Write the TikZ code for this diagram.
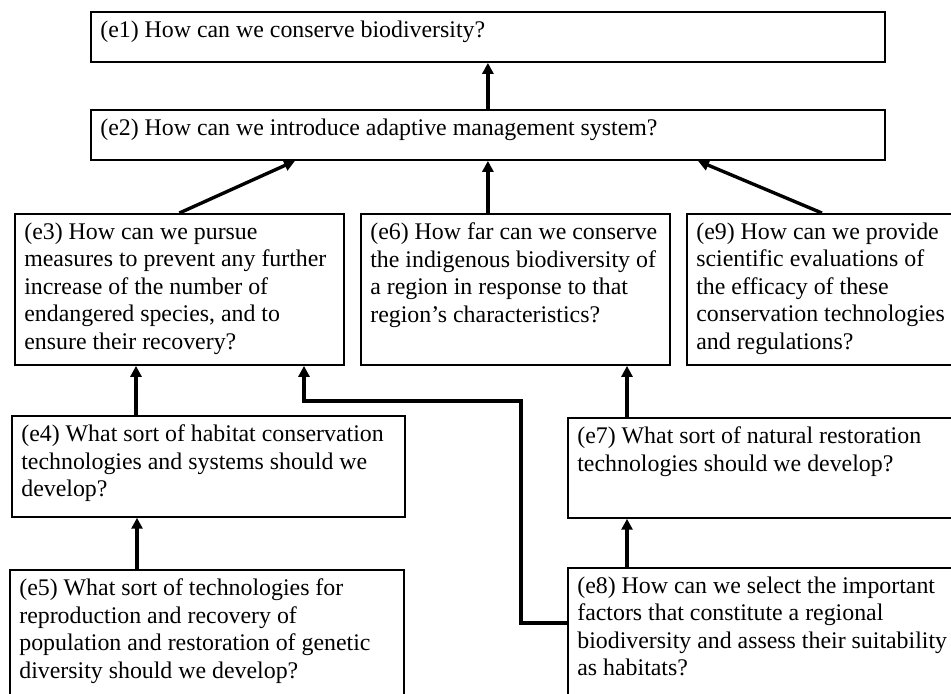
\documentclass[tikz,border=0pt]{standalone}
\usepackage{fontspec}
\setmainfont{Liberation Serif}
\usetikzlibrary{arrows.meta,calc}
\begin{document}
\begin{tikzpicture}[x=0.503pt, y=-0.503pt,
	box/.style={draw, line width=0.9pt, anchor=north west, inner sep=0pt},
	qtext/.style={anchor=north west, align=left, inner xsep=5pt, inner ysep=4.8pt, font=\fontsize{12pt}{13.8pt}\selectfont},
	arr/.style={line width=1.7pt, -{Triangle[width=5.5pt, length=5.5pt]}}]
			\clip (0,0) rectangle (951,693);
			\node[box, minimum width=399.4pt, minimum height=25.2pt] (e1) at (90,11) {};
			\node[qtext] (t1) at (e1.north west) {(e1) How can we conserve biodiversity?};
			\node[box, minimum width=399.4pt, minimum height=25.2pt] (e2) at (90,109) {};
			\node[qtext] (t2) at (e2.north west) {(e2) How can we introduce adaptive management system?};
			\node[box, minimum width=165.5pt, minimum height=76pt] (e3) at (14,213) {};
			\node[qtext] (t3) at (e3.north west) {(e3) How can we pursue\\measures to prevent any further\\increase of the number of\\endangered species, and to\\ensure their recovery?};
			\node[box, minimum width=155.4pt, minimum height=76pt] (e6) at (360,213) {};
			\node[qtext] (t6) at (e6.north west) {(e6) How far can we conserve\\the indigenous biodiversity of\\a region in response to that\\region’s characteristics?};
			\node[box, minimum width=135.8pt, minimum height=76pt] (e9) at (686,213) {};
			\node[qtext] (t9) at (e9.north west) {(e9) How can we provide\\scientific evaluations of\\the efficacy of these\\conservation technologies\\and regulations?};
			\node[box, minimum width=197.7pt, minimum height=50.8pt] (e4) at (11,415) {};
			\node[qtext] (t4) at (e4.north west) {(e4) What sort of habitat conservation\\technologies and systems should we\\develop?};
			\node[box, minimum width=195.7pt, minimum height=50.3pt] (e7) at (567,417) {};
			\node[qtext] (t7) at (e7.north west) {(e7) What sort of natural restoration\\technologies should we develop?};
			\node[box, minimum width=198.2pt, minimum height=70.4pt] (e5) at (9,569) {};
			\node[qtext] (t5) at (e5.north west) {(e5) What sort of technologies for\\reproduction and recovery of\\population and restoration of genetic\\diversity should we develop?};
			\node[box, minimum width=195.7pt, minimum height=70.4pt] (e8) at (567,567) {};
			\node[qtext] (t8) at (e8.north west) {(e8) How can we select the important\\factors that constitute a regional\\biodiversity and assess their suitability\\as habitats?};
			\draw[arr] (e2.north) -- (e1.south);
			\draw[arr] (e3.north) -- ($(e2.south west)+(205,0)$);
			\draw[arr] (e2.south |- e6.north) -- (e2.south);
			\draw[arr] (e9.north) -- ($(e2.south west)+(608,0)$);
			\draw[arr] ($(e4.north west)+(125,0)$) -- ($(e3.south west)+(122,0)$);
			\draw[arr] ($(e5.north west)+(128,0)$) -- ($(e4.south west)+(126,0)$);
			\draw[arr] ($(e7.north west)+(60,0)$) -- ($(e6.south west)+(267,0)$);
			\draw[arr] ($(e8.north west)+(60,0)$) -- ($(e7.south west)+(60,0)$);
			\coordinate (kink) at (521,401);
			\draw[arr] ($(e8.north west)+(0,56)$) -| (kink) -| ($(e3.south west)+(290,0)$);
		\end{tikzpicture}
\end{document}
